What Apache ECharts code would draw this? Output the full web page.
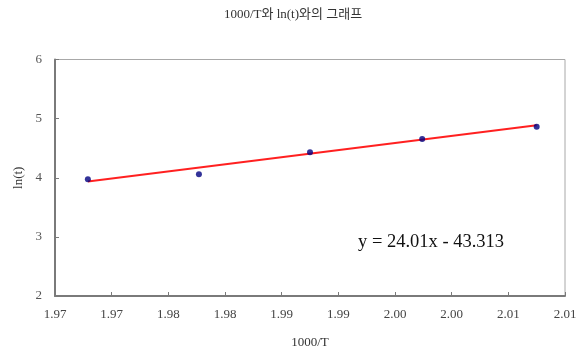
<!DOCTYPE html>
<html><head><meta charset="utf-8">
<script src="https://cdn.jsdelivr.net/npm/echarts@6/dist/echarts.min.js"></script>
<style>html,body{margin:0;padding:0;background:#fff}#c{width:586px;height:356px}</style>
</head><body><div id="c"></div>
<script>
const xValues = [1.9679, 1.9777, 1.9875, 1.9974, 2.0075];
const yValues = [3.974, 4.058, 4.43, 4.655, 4.863];
const xTickLabels = ['1.97','1.97','1.98','1.98','1.99','1.99','2.00','2.00','2.01','2.01'];
const yTickLabels = ['2','3','4','5','6'];
const slope = 24.01, intercept = -43.313;
const titleText = '1000/T와 ln(t)와의 그래프';
const equationText = 'y = 24.01x - 43.313';

const xMin = Math.min(...xValues), xMax = Math.max(...xValues);
const trend = [[xMin, slope*xMin+intercept],[xMax, slope*xMax+intercept]];
const serif = "'Liberation Serif','Times New Roman','Noto Sans CJK KR',serif";
const chart = echarts.init(document.getElementById('c'));
chart.setOption({
  animation:false,
  title:{text:titleText,left:'center',top:3,textStyle:{fontFamily:serif,fontSize:13,fontWeight:'normal',color:'#333'}},
  grid:{left:55,right:21,top:59.5,bottom:60,show:true,borderColor:'#a8a8a8',borderWidth:1},
  xAxis:{type:'value',min:1.965,max:2.010,interval:0.005,name:'1000/T',nameLocation:'middle',nameGap:40,
    nameTextStyle:{fontFamily:serif,fontSize:13,color:'#333'},
    axisLine:{lineStyle:{color:'#7a7a7a',width:2}},
    axisTick:{inside:true,length:4,lineStyle:{color:'#7a7a7a'}},
    splitLine:{show:false},
    axisLabel:{fontFamily:serif,fontSize:13,color:'#444',margin:12,formatter:(v,i)=>xTickLabels[i]}},
  yAxis:{type:'value',min:2,max:6,interval:1,name:'ln(t)',nameLocation:'middle',nameGap:29,
    nameTextStyle:{fontFamily:serif,fontSize:13,color:'#333'},
    axisLine:{show:true,lineStyle:{color:'#7a7a7a',width:2}},
    axisTick:{show:true,inside:true,length:4,lineStyle:{color:'#7a7a7a'}},
    splitLine:{show:false},
    axisLabel:{fontFamily:serif,fontSize:13,color:'#555',margin:13,formatter:(v,i)=>yTickLabels[i]}},
  graphic:[{type:'text',left:358,top:233,style:{text:equationText,font:"18.5px 'Liberation Serif',serif",fill:'#111'}}],
  series:[
    {type:'line',data:trend,showSymbol:false,lineStyle:{color:'#ff2020',width:2},z:2},
    {type:'scatter',data:xValues.map((x,i)=>[x,yValues[i]]),symbol:'circle',symbolSize:6,itemStyle:{color:'#000080'},z:3}
  ]
});
</script></body></html>
